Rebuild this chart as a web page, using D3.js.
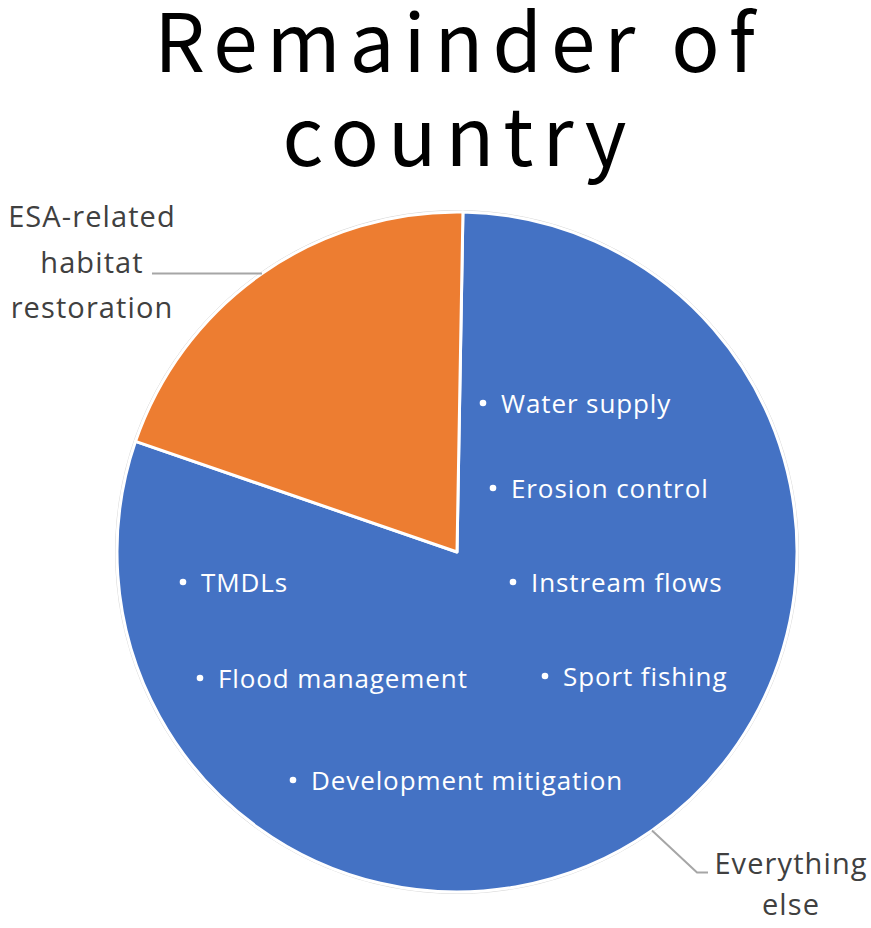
<!DOCTYPE html>
<html>
<head>
<meta charset="utf-8">
<script src="https://cdn.jsdelivr.net/npm/d3@7"></script>
<style>
  body { margin: 0; background: #fff; }
  svg { display: block; }
</style>
</head>
<body>
<div id="chart"></div>
<script>
// données du camembert
const categories = ["Everything else", "ESA-related habitat restoration"];
const values = [80, 20];
const colors = ["#4472C4", "#ED7D31"];
const labelLines = [["Everything", "else"], ["ESA-related", "habitat", "restoration"]];
const titleLines = ["Remainder of", "country"];
const notes = ["Water supply", "Erosion control", "Instream flows", "Sport fishing",
               "TMDLs", "Flood management", "Development mitigation"];
const notePos = [[483, 413], [493, 498], [513, 592], [545, 686],
                 [183, 592], [200, 688], [293, 790]];

const width = 871, height = 928;
const cx = 457, cy = 552, r = 340;
const rot = 1 * Math.PI / 180;

const svg = d3.select("#chart").append("svg")
    .attr("width", width)
    .attr("height", height);

// titre
svg.append("g").selectAll("text")
    .data(titleLines)
    .enter().append("text")
    .attr("x", 459)
    .attr("y", (d, i) => 72 + i * 94)
    .attr("text-anchor", "middle")
    .attr("font-family", "'Noto Sans CJK JP', 'Noto Sans', sans-serif")
    .attr("font-size", 80)
    .attr("letter-spacing", 9)
    .attr("fill", "#000")
    .text(d => d);

const pie = d3.pie().sort(null)
    .startAngle(rot).endAngle(2 * Math.PI + rot)
    .value(d => d);
const arcs = pie(values);
const arc = d3.arc().innerRadius(0).outerRadius(r);

const g = svg.append("g").attr("transform", `translate(${cx},${cy})`);

g.append("circle").attr("r", r + 1.5)
    .attr("fill", "none").attr("stroke", "#d9d9d9").attr("stroke-width", 1);

g.selectAll("path")
    .data(arcs)
    .enter().append("path")
    .attr("d", arc)
    .attr("fill", (d, i) => colors[i])
    .attr("stroke", "#fff")
    .attr("stroke-width", 3)
    .attr("stroke-linejoin", "round");

// points d'ancrage des étiquettes
const anchor = d => {
    const a = (d.startAngle + d.endAngle) / 2;
    return [cx + r * Math.sin(a), cy - r * Math.cos(a)];
};

const lineColor = "#a6a6a6";
const a0 = anchor(arcs[0]);
svg.append("polyline")
    .attr("points", [a0, [a0[0] + 45, a0[1] + 42], [a0[0] + 56, a0[1] + 42]].map(p => p.join(",")).join(" "))
    .attr("fill", "none").attr("stroke", lineColor).attr("stroke-width", 2);
const a1 = anchor(arcs[1]);
svg.append("polyline")
    .attr("points", [a1, [a1[0] - 110, a1[1]]].map(p => p.join(",")).join(" "))
    .attr("fill", "none").attr("stroke", lineColor).attr("stroke-width", 2);

const labelFont = "'Open Sans', 'Noto Sans', sans-serif";
const labelPos = [[791, 874, 41], [92, 227, 45.5]];
labelLines.forEach((lines, k) => {
    svg.append("g").selectAll("text")
        .data(lines)
        .enter().append("text")
        .attr("x", labelPos[k][0])
        .attr("y", (d, i) => labelPos[k][1] + i * labelPos[k][2])
        .attr("text-anchor", "middle")
        .attr("font-family", labelFont)
        .attr("font-size", 29)
        .attr("letter-spacing", 1.1)
        .attr("fill", "#404040")
        .text(d => d);
});

// liste à puces dans la part bleue
const ng = svg.append("g");
notes.forEach((t, i) => {
    const [x, y] = notePos[i];
    ng.append("circle").attr("cx", x).attr("cy", y - 10).attr("r", 3.3).attr("fill", "#fff");
    ng.append("text")
        .attr("x", x + 18)
        .attr("y", y)
        .attr("font-family", labelFont)
        .attr("font-size", 26)
        .attr("letter-spacing", 0.9)
        .attr("fill", "#fff")
        .text(t);
});
</script>
</body>
</html>
